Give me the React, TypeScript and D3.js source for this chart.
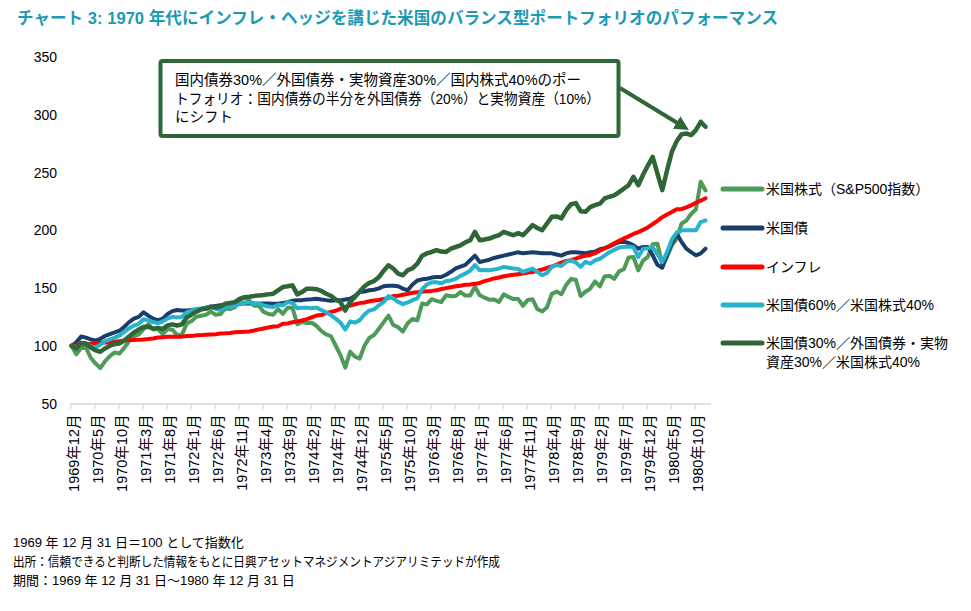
import React from "react";
import * as d3 from "d3";

const W = 971;
const H = 611;
const FONT = "'Liberation Sans', Arial, 'Noto Sans CJK JP', sans-serif";

// ---- data (index, 1969-12-31 = 100), monthly Dec 1969 .. Dec 1980 ----
const monthCount = 133;

const tickLabels = [
  "1969年12月", "1970年5月", "1970年10月", "1971年3月", "1971年8月", "1972年1月",
  "1972年6月", "1972年11月", "1973年4月", "1973年9月", "1974年2月", "1974年7月",
  "1974年12月", "1975年5月", "1975年10月", "1976年3月", "1976年8月", "1977年1月",
  "1977年6月", "1977年11月", "1978年4月", "1978年9月", "1979年2月", "1979年7月",
  "1979年12月", "1980年5月", "1980年10月",
];
const tickEvery = 5;
const yTicks = [50, 100, 150, 200, 250, 300, 350];

const sp500 = [
  100,
  92.6, 98.0, 98.3, 89.6, 84.7, 80.6, 86.6, 91.0, 94.2, 93.3, 98.3, 104.0,
  108.4, 109.9, 114.4, 118.7, 114.3, 114.6, 110.0, 114.5, 113.9, 109.3, 109.6, 119.2,
  121.5, 125.1, 126.0, 126.8, 129.5, 126.9, 127.4, 132.3, 131.8, 133.2, 139.7, 141.5,
  139.3, 134.6, 134.6, 129.3, 127.5, 126.8, 131.8, 127.6, 132.9, 133.0, 118.6, 120.7,
  119.7, 119.9, 117.3, 112.9, 109.8, 108.4, 100.2, 91.9, 81.1, 94.8, 90.5, 88.9,
  100.0, 106.8, 109.3, 114.7, 120.5, 126.1, 117.8, 116.1, 112.3, 119.4, 123.2, 122.0,
  136.6, 135.8, 140.3, 138.9, 137.9, 143.8, 142.8, 143.0, 146.5, 143.5, 143.4, 151.1,
  143.7, 141.6, 139.9, 140.1, 138.0, 144.5, 142.3, 140.4, 140.4, 134.6, 139.6, 140.2,
  131.8, 129.7, 133.3, 144.9, 146.9, 144.6, 152.7, 157.9, 157.1, 143.1, 146.8, 149.4,
  155.7, 151.3, 160.0, 160.6, 157.9, 164.4, 166.2, 176.4, 176.8, 165.2, 173.7, 177.0,
  187.8, 188.4, 169.8, 177.1, 187.0, 192.6, 205.6, 208.3, 214.1, 218.1, 242.0, 234.4,
];

const treasury = [
  100,
  103, 108, 107, 105.5, 104.5, 106, 108.5, 110, 111.5, 113, 116.5, 120.5,
  123.5, 125, 129, 126, 123.5, 122, 123.5, 127.5, 130, 131, 130.6, 130.6,
  131, 131.5, 132, 133, 134, 134.5, 135, 135.5, 136, 136.5, 136.4, 136.5,
  136.5, 136.5, 136.4, 136.5, 136.5, 136.4, 136.4, 137, 137.8, 139, 139.3, 139.5,
  140, 140.3, 140.7, 140, 139.5, 139, 139.3, 139.3, 140, 140.7, 143, 146.5,
  147, 148, 148.5, 149.7, 151.5, 152, 152, 151.5, 149.5, 148, 153, 156.5,
  157.5, 158, 159, 159.5, 159.5, 161.5, 164, 167, 168.5, 170, 174, 178,
  172.5, 173.5, 174.5, 176, 177, 178, 179, 180, 181, 180, 180.5, 181,
  180.5, 180, 180, 180, 179, 178, 180, 181, 181, 180.5, 180, 181,
  181.5, 183.5, 184.5, 186, 188, 189.7, 190, 189, 187, 184, 185.5, 185.6,
  178.3, 170, 167.5, 179, 189, 196.9, 190, 184, 181, 178.3, 180, 184,
];

const inflation = [
  100,
  100.5, 101.1, 101.6, 101.8, 102.4, 102.6, 102.9, 102.9, 103.4, 104.0, 104.5, 105.0,
  105.0, 105.3, 105.5, 105.8, 106.3, 107.1, 107.4, 107.7, 107.7, 107.9, 107.9, 108.4,
  108.4, 109.0, 109.2, 109.5, 109.8, 110.0, 110.6, 110.8, 111.1, 111.6, 111.9, 112.1,
  112.4, 113.2, 114.2, 115.0, 115.8, 116.6, 116.9, 119.0, 119.3, 120.3, 121.1, 121.9,
  123.0, 124.5, 126.1, 126.6, 128.2, 129.3, 130.3, 131.9, 133.5, 134.8, 135.9, 136.9,
  137.5, 138.5, 139.1, 139.6, 140.4, 141.4, 143.0, 143.3, 144.1, 144.9, 145.9, 146.4,
  146.7, 147.2, 147.5, 148.0, 149.1, 149.9, 150.7, 151.5, 152.0, 152.8, 153.0, 153.6,
  154.4, 155.9, 157.0, 158.3, 159.1, 160.2, 160.9, 161.5, 162.0, 162.5, 163.3, 163.9,
  164.9, 166.0, 167.3, 168.6, 170.2, 172.0, 173.4, 174.1, 175.5, 177.0, 177.8, 178.6,
  180.2, 182.3, 184.2, 186.3, 188.7, 190.8, 192.9, 194.7, 196.8, 198.4, 200.3, 202.4,
  205.3, 208.2, 211.3, 213.7, 215.8, 218.2, 218.2, 219.8, 221.6, 223.7, 225.6, 227.7,
];

const mix6040 = [
  100,
  98.5, 101.5, 102, 99.5, 98.5, 101, 104, 105.5, 107, 109, 112, 115,
  117.5, 119, 123, 122, 120.5, 119.6, 121, 123.5, 125, 124.5, 125, 129,
  130.5, 132, 132, 132.5, 134, 132, 131, 133.5, 133.5, 134.5, 136, 137,
  137.8, 136, 136.5, 135, 134, 133.5, 135.5, 135, 137.8, 137, 132.5, 133,
  133, 132.5, 133, 131, 129, 126.5, 123.5, 120, 114, 121, 120, 122,
  127, 130.5, 131.5, 135, 138, 143, 141, 138, 136, 137.5, 139.5, 141,
  149, 153, 155, 155, 154, 156, 156.5, 158, 160.5, 162.6, 165, 169.8,
  165.3, 165.5, 165.3, 166, 166.8, 168.3, 167.5, 166.8, 166.5, 163.9, 165.5, 166.8,
  164, 161, 163, 168.3, 169.8, 169, 172.6, 174, 172, 168.3, 172.6, 171.1,
  174, 175.3, 178, 181, 183, 185, 185.4, 186, 185.4, 176.8, 184, 184.5,
  185.4, 179, 172.5, 181, 192, 198, 199.9, 199.9, 199.9, 200, 207.1, 208.5,
];

const mix303040 = [
  100,
  97.5, 102.5, 102, 98.5, 96, 94.8, 97.7, 100, 101.5, 102, 104.5, 108,
  111.5, 114, 116.2, 116.5, 114.7, 115.5, 114.5, 117.6, 118.5, 117.5, 118.5, 124.5,
  127, 129.5, 131.5, 132, 133.5, 133, 134, 136.4, 137, 137.8, 140.5, 142.1,
  142.5, 143, 143.6, 144, 144.5, 145.1, 148, 150.8, 151.5, 152.3, 144.5, 146.5,
  149.4, 149.4, 149, 147.5, 145, 143.3, 140, 137.8, 130.5, 138, 142.1, 147,
  151.5, 154.5, 156, 159.5, 165, 169.7, 166.8, 162.5, 161, 165.4, 167, 171,
  178, 180, 181.2, 182.7, 181.5, 181.2, 184.1, 185.5, 187, 189.5, 191.3, 198.5,
  191.3, 192, 192.8, 194.5, 195.7, 198.5, 197, 195.7, 197.5, 195.7, 200, 204.4,
  202, 200, 205.8, 211.6, 212, 210.2, 217.4, 222.5, 223.5, 216.5, 216, 220,
  221.7, 223, 227.5, 229, 230.2, 233, 236, 239, 246.2, 239, 248, 256,
  263.5, 249, 234.7, 252, 268, 277, 283, 283.8, 282.4, 286.7, 293.9, 289.6,
];

const seriesNames = [
  "米国株式（S&P500指数）",
  "米国債",
  "インフレ",
  "米国債60%／米国株式40%",
  "米国債30%／外国債券・実物資産30%／米国株式40%",
];
const seriesColors = ["#4e9a58", "#1a3e6c", "#ff0000", "#26b3cb", "#2f6638"];
const seriesValues = [sp500, treasury, inflation, mix6040, mix303040];

const titleText =
  "チャート 3: 1970 年代にインフレ・ヘッジを講じた米国のバランス型ポートフォリオのパフォーマンス";
const noteLines = [
  "国内債券30%／外国債券・実物資産30%／国内株式40%のポー",
  "トフォリオ：国内債券の半分を外国債券（20%）と実物資産（10%）",
  "にシフト",
];
const footLines = [
  "1969 年 12 月 31 日＝100 として指数化",
  "出所：信頼できると判断した情報をもとに日興アセットマネジメントアジアリミテッドが作成",
  "期間：1969 年 12 月 31 日～1980 年 12 月 31 日",
];

export default function App() {
  const months = d3.range(monthCount);
  const x = d3.scaleLinear().domain([0, monthCount - 1]).range([71.5, 705.5]);
  const y = d3.scaleLinear().domain([50, 350]).range([403.5, 57]);

  const line = d3
    .line<number>()
    .x((_, i) => x(i))
    .y((d) => y(d));

  const tickIdx = months.filter((i) => i % tickEvery === 0);
  const legendY = [189, 228, 267, 305, 343];

  return (
    <svg
      width={W}
      height={H}
      viewBox={`0 0 ${W} ${H}`}
      style={{ position: "absolute", left: 0, top: 0, background: "#fff" }}
      fontFamily={FONT}
    >
      <defs>
        <marker
          id="arrowHead"
          viewBox="0 0 10 10"
          refX="6"
          refY="5"
          markerWidth="3.6"
          markerHeight="3.6"
          orient="auto"
          markerUnits="strokeWidth"
        >
          <path d="M0,0 L10,5 L0,10 z" fill="#2f6638" />
        </marker>
      </defs>

      {/* title */}
      <text x={17} y={18} fontSize={16.6} fontWeight="bold" fill="#1d9ab2" dominantBaseline="central">
        {titleText}
      </text>

      {/* y axis labels */}
      {yTicks.map((t) => (
        <text key={t} x={57} y={y(t)} fontSize={14} textAnchor="end" dominantBaseline="central" fill="#000">
          {t}
        </text>
      ))}

      {/* x axis */}
      <line x1={70} x2={711} y1={404} y2={404} stroke="#d9d9d9" strokeWidth={1.5} />
      {tickIdx.map((i) => (
        <line key={"t" + i} x1={x(i) - 0.5} x2={x(i) - 0.5} y1={404} y2={409} stroke="#d9d9d9" strokeWidth={1.2} />
      ))}
      {tickIdx.map((i, k) => (
        <text
          key={"l" + i}
          transform={`translate(${x(i) + 2.5},${414.5}) rotate(-90)`}
          fontSize={14.5}
          textAnchor="end"
          dominantBaseline="central"
          fill="#000"
        >
          {tickLabels[k]}
        </text>
      ))}

      {/* series */}
      {seriesValues.map((vals, s) => (
        <path
          key={"s" + s}
          d={line(vals) || ""}
          fill="none"
          stroke={seriesColors[s]}
          strokeWidth={s === 4 ? 4.5 : 4}
          strokeLinejoin="round"
          strokeLinecap="round"
        />
      ))}

      {/* annotation */}
      <rect x={160.5} y={61} width={458} height={75} rx={2} fill="#fff" stroke="#2f6638" strokeWidth={4} />
      {noteLines.map((t, k) => (
        <text
          key={"n" + k}
          x={175}
          y={80 + k * 18.5}
          fontSize={14.5}
          dominantBaseline="central"
          fill="#000"
          {...(k === 1 ? { textLength: 425, lengthAdjust: "spacingAndGlyphs" } : {})}
        >
          {t}
        </text>
      ))}
      <line x1={620} y1={88} x2={684} y2={127} stroke="#2f6638" strokeWidth={4} markerEnd="url(#arrowHead)" />

      {/* legend */}
      {seriesNames.map((name, s) => (
        <g key={"g" + s}>
          <line x1={723} x2={762} y1={legendY[s]} y2={legendY[s]} stroke={seriesColors[s]} strokeWidth={5} strokeLinecap="round" />
          {s < 4 ? (
            <text x={766} y={legendY[s]} fontSize={14} dominantBaseline="central" fill="#000">
              {name}
            </text>
          ) : (
            <text x={766} y={legendY[s]} fontSize={14} dominantBaseline="central" fill="#000">
              <tspan x={766} y={legendY[s]}>米国債30%／外国債券・実物</tspan>
              <tspan x={766} y={legendY[s] + 19}>資産30%／米国株式40%</tspan>
            </text>
          )}
        </g>
      ))}

      {/* footnotes */}
      {footLines.map((t, k) => (
        <text
          key={"f" + k}
          x={13}
          y={542.7 + k * 19}
          fontSize={13}
          dominantBaseline="central"
          fill="#000"
          {...(k === 1 ? { textLength: 487, lengthAdjust: "spacingAndGlyphs" } : {})}
        >
          {t}
        </text>
      ))}
    </svg>
  );
}
